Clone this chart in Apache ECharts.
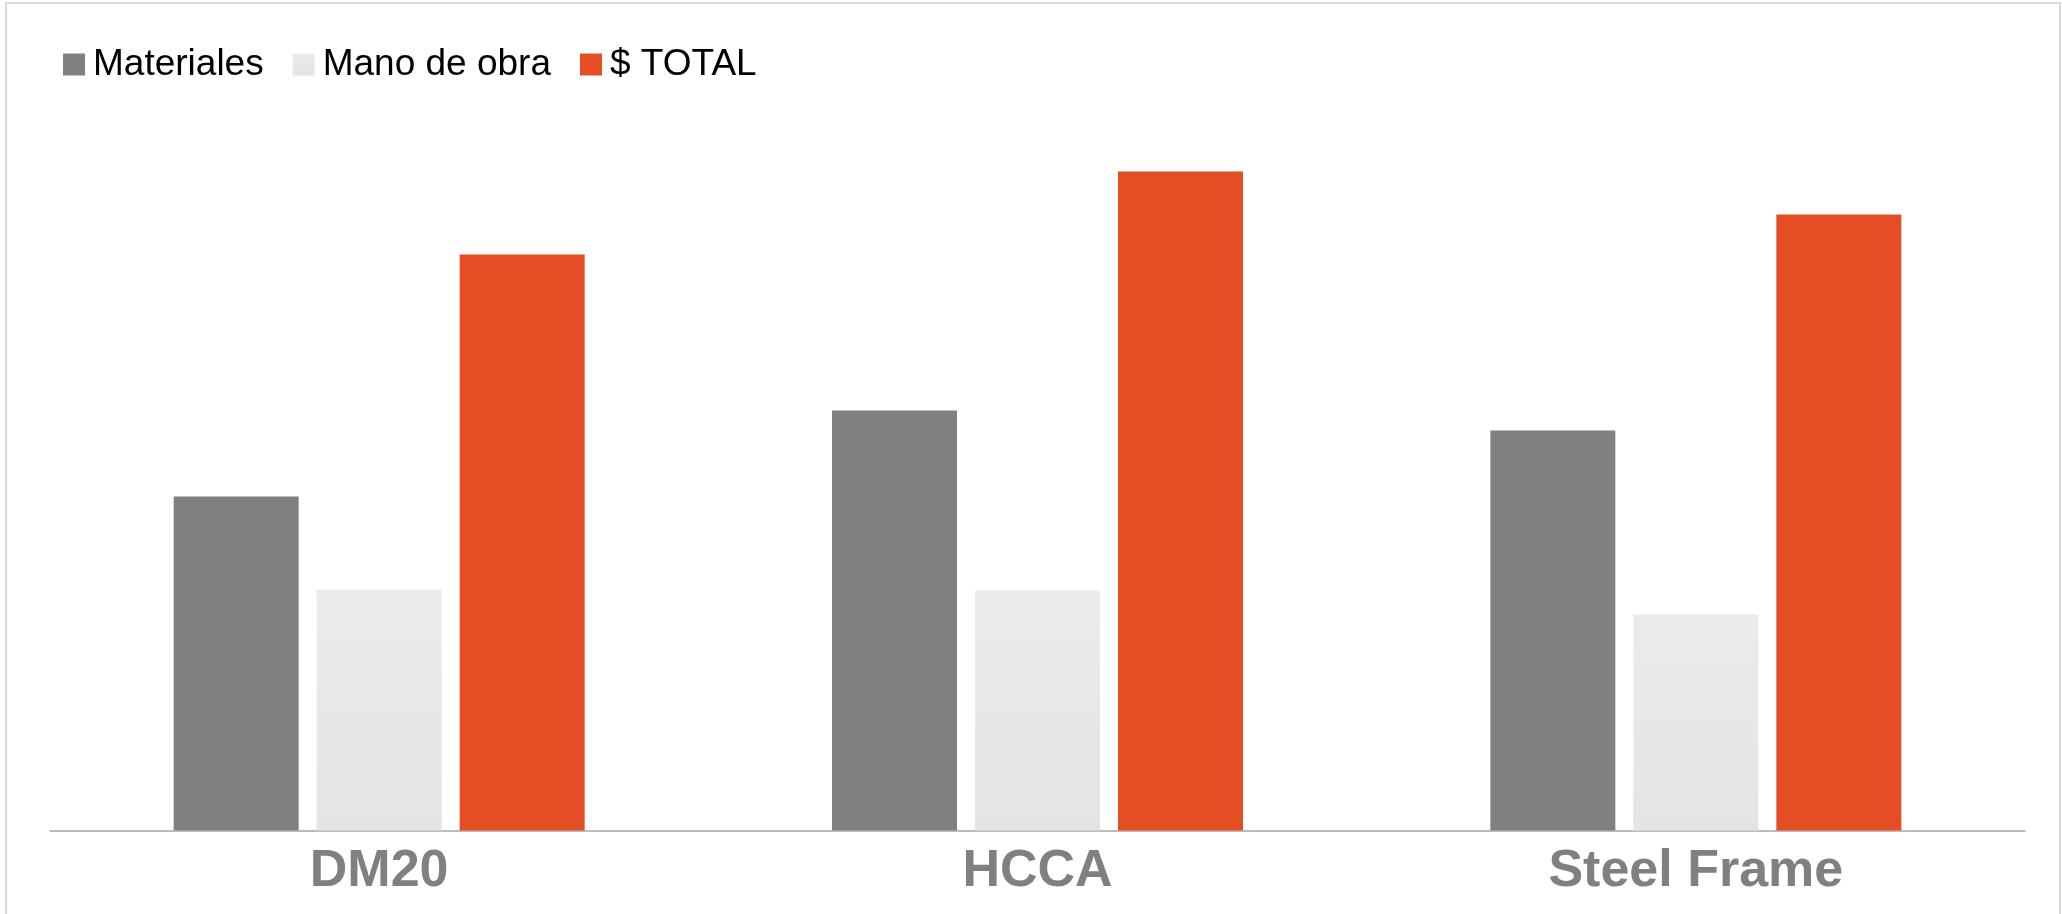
<!DOCTYPE html>
<html>
<head>
<meta charset="utf-8">
<script src="https://cdn.jsdelivr.net/npm/echarts@6/dist/echarts.min.js"></script>
<style>
  html, body { margin: 0; padding: 0; background: #fff; }
  #main { width: 2062px; height: 914px; }
</style>
</head>
<body>
<div id="main"></div>
<script>
    // categorias y valores (sin escala visible)
    const categorias = ['DM20', 'HCCA', 'Steel Frame'];
    const materiales = [334, 420, 400];
    const manoDeObra = [241, 240, 216];
    const total = [576, 659, 616];

    const fontFamily = '"Liberation Sans", Arial, sans-serif';

    var chartDom = document.getElementById('main');
    var myChart = echarts.init(chartDom);
    var option;

    option = {
        backgroundColor: '#fff',
        animation: false,
        graphic: [
            {
                type: 'rect',
                shape: { x: 6, y: 3, width: 2054, height: 930 },
                style: { fill: 'none', stroke: '#d9d9d9', lineWidth: 2 },
                silent: true
            }
        ],
        legend: {
            left: 58,
            top: 41,
            itemWidth: 22,
            itemHeight: 22,
            itemGap: 29,
            icon: 'rect',
            textStyle: {
                fontFamily: fontFamily,
                fontSize: 37,
                color: '#000',
                padding: [0, 0, 0, 3]
            },
            data: ['Materiales', 'Mano de obra', '$ TOTAL']
        },
        grid: {
            left: 50,
            right: 37,
            top: 130.5,
            bottom: 83.5,
            containLabel: false
        },
        xAxis: {
            type: 'category',
            data: categorias,
            axisLine: { lineStyle: { color: '#a6a6a6', width: 1.5 } },
            axisTick: { show: false },
            axisLabel: {
                margin: 15,
                fontFamily: fontFamily,
                fontSize: 52,
                fontWeight: 'bold',
                color: '#808080'
            }
        },
        yAxis: {
            type: 'value',
            min: 0,
            max: 700,
            show: false,
            splitLine: { show: false }
        },
        series: [
            {
                name: 'Materiales',
                type: 'bar',
                barWidth: 125,
                barGap: '14.4%',
                itemStyle: { color: '#808080' },
                data: materiales
            },
            {
                name: 'Mano de obra',
                type: 'bar',
                barWidth: 125,
                barGap: '14.4%',
                itemStyle: {
                    color: new echarts.graphic.LinearGradient(0, 0, 0, 1, [
                        { offset: 0, color: '#ebebeb' },
                        { offset: 1, color: '#e5e4e5' }
                    ])
                },
                data: manoDeObra
            },
            {
                name: '$ TOTAL',
                type: 'bar',
                barWidth: 125,
                barGap: '14.4%',
                itemStyle: { color: '#e54e24' },
                data: total
            }
        ]
    };

    myChart.setOption(option);
</script>
</body>
</html>
